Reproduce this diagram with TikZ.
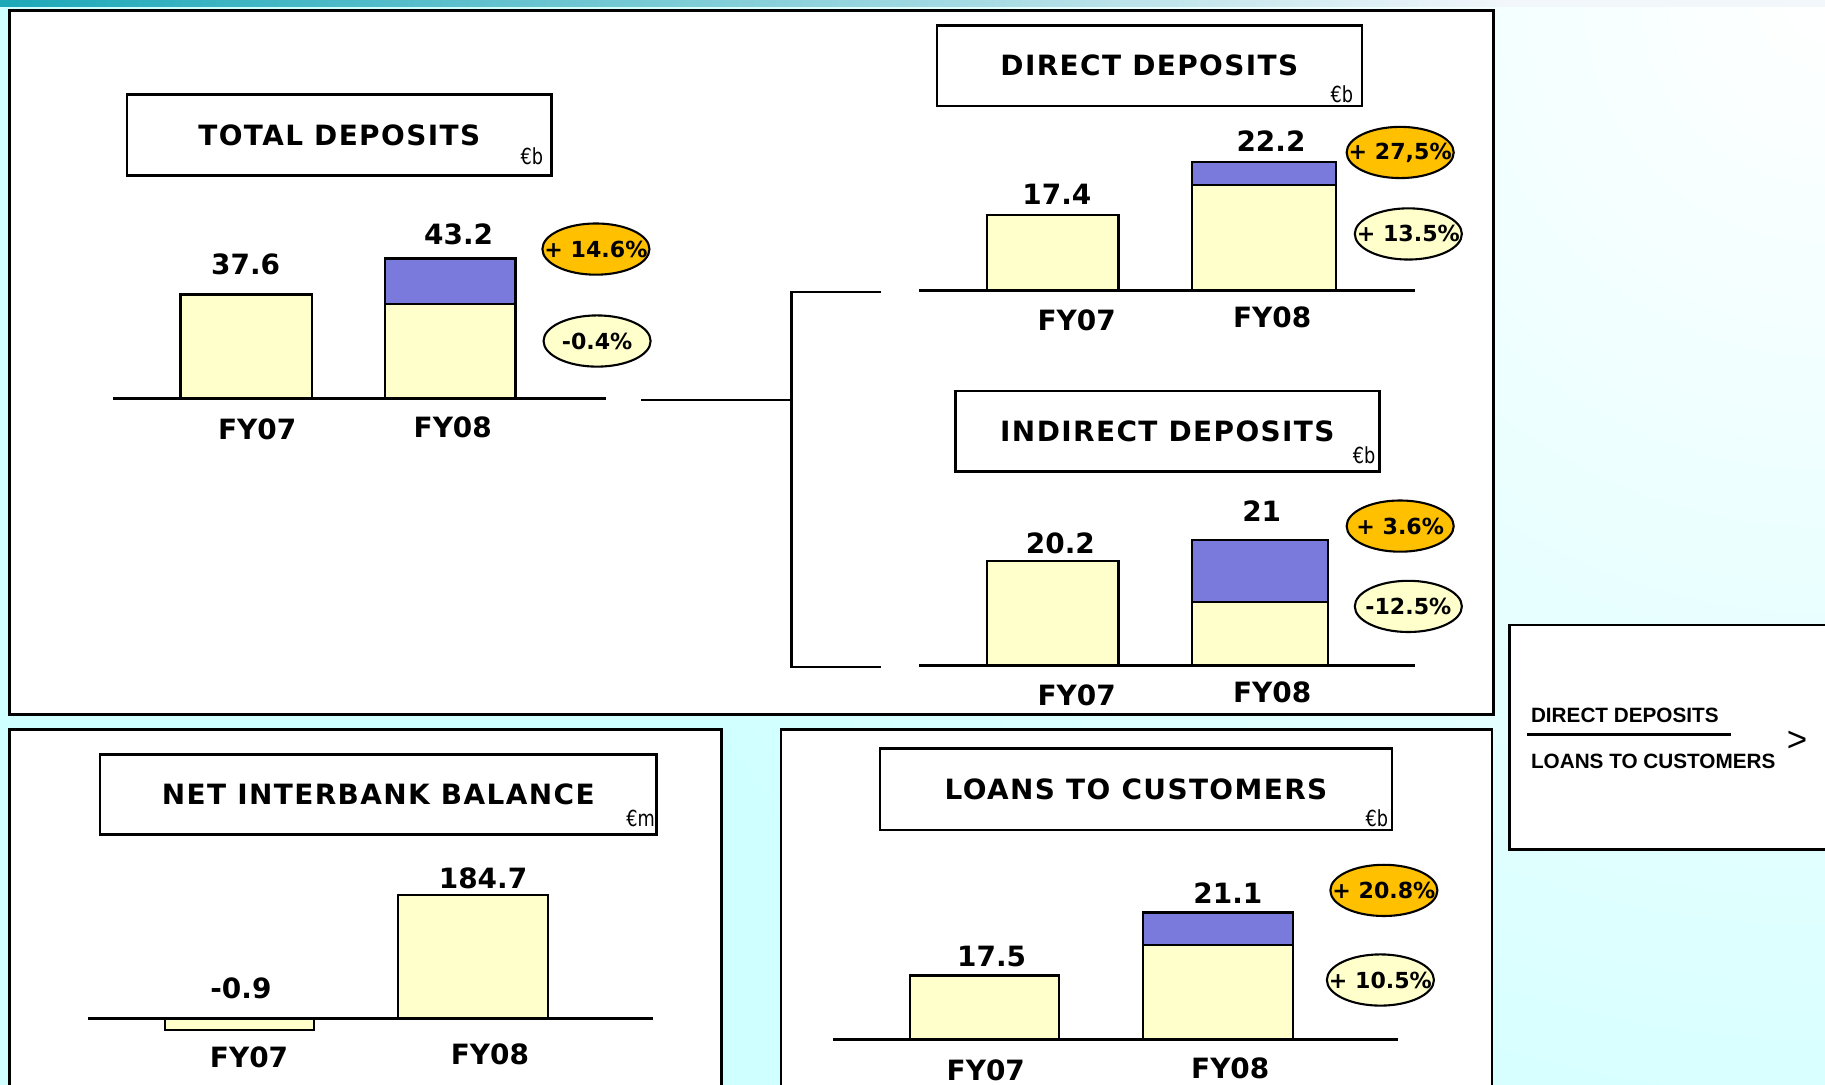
\documentclass[tikz,border=0pt]{standalone}
\usepackage{fontspec}
\setmainfont{DejaVu Sans}
\newfontfamily\hdrfont[LetterSpace=5]{DejaVu Sans}
\newfontfamily\arialf{Liberation Sans}
\newfontfamily\condf[FakeStretch=0.8]{DejaVu Sans}
\usetikzlibrary{shapes.geometric}
\definecolor{barYel}{HTML}{FFFFCC}
\definecolor{barBlue}{HTML}{7A7ADC}
\definecolor{pillOrange}{HTML}{FFC000}
\definecolor{bgCyan}{HTML}{D0FFFF}
\definecolor{barTeal}{HTML}{1CA8B8}
\definecolor{stripEnd}{HTML}{F2F7FB}
\begin{document}
\begin{tikzpicture}[x=0.5pt,y=-0.5pt,
  panel/.style={draw=black,line width=1.1pt,fill=white},
  hbox/.style={draw=black,line width=1.1pt,fill=white,inner sep=0pt,
    font=\hdrfont\bfseries\fontsize{12}{14}\selectfont},
  unitlbl/.style={inner sep=0pt,anchor=south east,font=\condf\fontsize{9.5}{11}\selectfont},
  val/.style={inner sep=0pt,font=\bfseries\fontsize{12}{14}\selectfont},
  yr/.style={inner sep=0pt,font=\bfseries\fontsize{12}{14}\selectfont},
  axisline/.style={line width=1.3pt},
  ybar/.style={draw=black,line width=1pt,fill=barYel},
  bbar/.style={draw=black,line width=1pt,fill=barBlue},
  pill/.style={ellipse,draw=black,line width=0.9pt,inner sep=0pt,
    minimum width=46pt,minimum height=22pt,font=\bfseries\fontsize{9.5}{11}\selectfont},
  pillO/.style={pill,fill=pillOrange},
  pillY/.style={pill,fill=barYel},
  bracket/.style={line width=0.9pt},
  ratio/.style={inner sep=0pt,anchor=west,font=\arialf\bfseries\fontsize{8.9}{10}\selectfont}
]
\useasboundingbox (0,0) rectangle (1568,932);
\clip (0,0) rectangle (1568,932);

% page background: pale cyan, lightening towards the top right corner
\fill[bgCyan] (0,0) rectangle (1568,932);
\shade[inner color=white,outer color=bgCyan] (1568,0) circle (1150);
% title strip
\shade[left color=barTeal,right color=stripEnd] (0,0) rectangle (1300,6);
\fill[stripEnd] (1300,0) rectangle (1568,6);

% panels
\draw[panel] (8,9) rectangle (1283,614);
\draw[panel] (8,627) rectangle (620,950);
\draw[panel] (671,627) rectangle (1282,950);
\draw[panel] (1297,537) rectangle (1590,730);

% ---------- total deposits ----------
\node[hbox,minimum width=182.5pt,minimum height=35pt] (tdHead) at (291.5,116) {TOTAL DEPOSITS};
\node[unitlbl] (tdUnit) at (467,142) {€b};
\draw[ybar] (155,253) rectangle (268,342);
\draw[ybar] (331,261) rectangle (443,342);
\draw[bbar] (331,222) rectangle (443,261);
\draw[axisline] (97,342) -- (521,342);
\node[val] (tdV07) at (211,227) {37.6};
\node[val] (tdV08) at (394,201) {43.2};
\node[yr] (tdY07) at (221,369) {FY07};
\node[yr] (tdY08) at (389,367) {FY08};
\node[pillO] (tdG) at (512,214) {\makebox[0pt]{+ 14.6\%}};
\node[pillY] (tdO) at (513,293) {\makebox[0pt]{-0.4\%}};

% bracket splitting total into direct and indirect
\coordinate (brL) at (551,344);
\coordinate (brM) at (680,344);
\coordinate (brT) at (680,251);
\coordinate (brTe) at (757,251);
\coordinate (brB) at (680,573);
\coordinate (brBe) at (757,573);
\draw[bracket] (brL) -- (brM);
\draw[bracket] (brTe) -- (brT) -- (brB) -- (brBe);

% ---------- direct deposits ----------
\node[hbox,minimum width=182.5pt,minimum height=34.5pt] (ddHead) at (987.5,56.5) {DIRECT DEPOSITS};
\node[unitlbl] (ddUnit) at (1163,89) {€b};
\draw[ybar] (848,185) rectangle (961,250);
\draw[ybar] (1024,159) rectangle (1148,250);
\draw[bbar] (1024,139) rectangle (1148,159);
\draw[axisline] (790,250) -- (1216,250);
\node[val] (ddV07) at (908,167) {17.4};
\node[val] (ddV08) at (1092,121) {22.2};
\node[yr] (ddY07) at (925,275) {FY07};
\node[yr] (ddY08) at (1093,273) {FY08};
\node[pillO] (ddG) at (1203,131) {\makebox[0pt]{+ 27,5\%}};
\node[pillY] (ddO) at (1210,201) {\makebox[0pt]{+ 13.5\%}};

% ---------- indirect deposits ----------
\node[hbox,minimum width=182pt,minimum height=34.5pt] (idHead) at (1003,370.5) {INDIRECT DEPOSITS};
\node[unitlbl] (idUnit) at (1182,399) {€b};
\draw[ybar] (848,482) rectangle (961,572);
\draw[ybar] (1024,517) rectangle (1141,572);
\draw[bbar] (1024,464) rectangle (1141,517);
\draw[axisline] (790,572) -- (1216,572);
\node[val] (idV07) at (911,467) {20.2};
\node[val] (idV08) at (1084,439) {21};
\node[yr] (idY07) at (925,597) {FY07};
\node[yr] (idY08) at (1093,595) {FY08};
\node[pillO] (idG) at (1203,452) {\makebox[0pt]{+ 3.6\%}};
\node[pillY] (idO) at (1210,521) {\makebox[0pt]{-12.5\%}};

% ---------- net interbank balance ----------
\node[hbox,minimum width=239pt,minimum height=34.5pt] (nbHead) at (325,682.5) {NET INTERBANK BALANCE};
\node[unitlbl] (nbUnit) at (563,711) {€m};
\draw[ybar] (142,875) rectangle (270,885);
\draw[ybar] (342,769) rectangle (471,875);
\draw[axisline] (76,875) -- (561,875);
\node[val] (nbV07) at (207,849) {-0.9};
\node[val] (nbV08) at (415,755) {184.7};
\node[yr] (nbY07) at (214,908) {FY07};
\node[yr] (nbY08) at (421,906) {FY08};

% ---------- loans to customers ----------
\node[hbox,minimum width=220pt,minimum height=35pt] (lcHead) at (976,678) {LOANS TO CUSTOMERS};
\node[unitlbl] (lcUnit) at (1193,711) {€b};
\draw[ybar] (782,838) rectangle (910,893);
\draw[ybar] (982,812) rectangle (1111,893);
\draw[bbar] (982,784) rectangle (1111,812);
\draw[axisline] (716,893) -- (1201,893);
\node[val] (lcV07) at (852,822) {17.5};
\node[val] (lcV08) at (1055,767) {21.1};
\node[yr] (lcY07) at (847,920) {FY07};
\node[yr] (lcY08) at (1057,918) {FY08};
\node[pillO] (lcG) at (1189,765) {\makebox[0pt]{+ 20.8\%}};
\node[pillY] (lcO) at (1186,842) {\makebox[0pt]{+ 10.5\%}};

% ---------- deposit / loan ratio ----------
\node[ratio] (rNum) at (1315,615) {DIRECT DEPOSITS};
\draw[line width=1pt] (1312,631) -- (1487,631);
\node[ratio] (rDen) at (1315,654) {LOANS TO CUSTOMERS};
\node[inner sep=0pt,font=\arialf\fontsize{15}{17}\selectfont] (rGt) at (1544,637) {>};
\end{tikzpicture}
\end{document}
